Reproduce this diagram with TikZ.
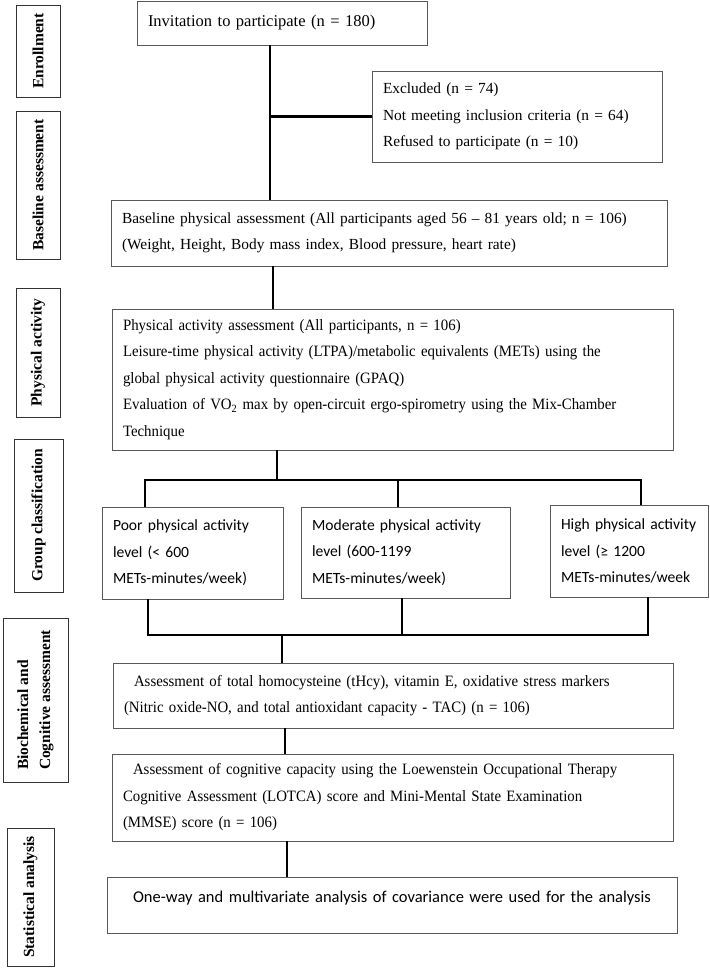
\documentclass[tikz,border=0pt]{standalone}
\usepackage{fontspec}
\setmainfont{Liberation Serif}
\newfontfamily\narrowserif[FakeStretch=0.94]{Liberation Serif}
\newfontfamily\calibri{Carlito}
\usepackage{tikz}

\tikzset{
  box/.style={draw=black!65, line width=0.9pt, inner xsep=11pt, inner ysep=3pt,
    align=left, font=\fontsize{15.4}{26.5}\selectfont},
  narrowbox/.style={box, font=\narrowserif\fontsize{15.8}{26.5}\selectfont},
  groupbox/.style={box, font=\calibri\fontsize{15.6}{26.5}\selectfont},
  sidebox/.style={draw=black!80, line width=0.9pt, rotate=90, inner sep=2pt,
    align=left, font=\bfseries\fontsize{15.5}{22}\selectfont},
  link/.style={line width=2.6pt, black},
}

\begin{document}
\begin{tikzpicture}[x=1pt, y=-1pt]
\useasboundingbox (0,0) rectangle (709,971);
% stage labels on the left
\node[sidebox, minimum width=92, minimum height=44] (enrol) at (38,51) {Enrollment};
\node[sidebox, minimum width=148, minimum height=44] (basel) at (38,185) {Baseline assessment};
\node[sidebox, minimum width=129, minimum height=44] (physl) at (38,352.5) {Physical activity};
\node[sidebox, minimum width=153, minimum height=49] (groupl) at (38.5,515.5) {Group classification};
\node[sidebox, minimum width=164, minimum height=65] (biol) at (35.5,700) {Biochemical and\\Cognitive assessment};
\node[sidebox, minimum width=138, minimum height=47] (statl) at (30.5,897) {Statistical analysis};
% flow boxes
\node[box, minimum width=290, minimum height=44, text width=268, font=\fontsize{16.5}{26.5}\selectfont] (inv) at (282,23)
  {Invitation to participate (n = 180)};
\node[box, minimum width=290, minimum height=91, text width=268] (excl) at (517,116.5)
  {Excluded (n = 74)\\Not meeting inclusion criteria (n = 64)\\Refused to participate (n = 10)};
\node[box, minimum width=556, minimum height=66, text width=534] (base) at (389,233)
  {Baseline physical assessment (All participants aged 56 – 81 years old; n = 106)\\(Weight, Height, Body mass index, Blood pressure, heart rate)};
\node[narrowbox, minimum width=561, minimum height=141, text width=539] (pa) at (392.5,379.5)
  {Physical activity assessment (All participants, n = 106)\\Leisure-time physical activity (LTPA)/metabolic equivalents (METs) using the\\global physical activity questionnaire (GPAQ)\\Evaluation of VO\textsubscript{2} max by open-circuit ergo-spirometry using the Mix-Chamber\\Technique};
\node[groupbox, minimum width=181, minimum height=92, text width=159] (poor) at (192.5,553)
  {Poor physical activity\\level (< 600\\METs-minutes/week)};
\node[groupbox, minimum width=209, minimum height=91, text width=187] (mod) at (405.5,552.5)
  {Moderate physical activity\\level (600-1199\\METs-minutes/week)};
\node[groupbox, minimum width=158, minimum height=92, text width=144, inner xsep=7pt] (high) at (629,551)
  {\hspace*{4pt}High physical activity\\\hspace*{4pt}level (≥ 1200\\\hspace*{4pt}METs-minutes/week};
\node[narrowbox, minimum width=560, minimum height=65, text width=538] (bio) at (393,695.5)
  {\hspace*{10pt}Assessment of total homocysteine (tHcy), vitamin E, oxidative stress markers\\(Nitric oxide-NO, and total antioxidant capacity - TAC) (n = 106)};
\node[narrowbox, minimum width=561, minimum height=87, text width=539] (cog) at (392.5,797.5)
  {\hspace*{10pt}Assessment of cognitive capacity using the Loewenstein Occupational Therapy\\Cognitive Assessment (LOTCA) score and Mini-Mental State Examination\\(MMSE) score (n = 106)};
\node[groupbox, minimum width=570, minimum height=56, text width=548, align=center, font=\calibri\fontsize{16.5}{26.5}\selectfont] (stats) at (392,905)
  {One-way and multivariate analysis of covariance were used for the analysis\\[-17.5pt]\strut};
% connector joints
\coordinate (t1) at (270,116);
\coordinate (t2) at (273,0);
\coordinate (s0) at (277,480);
\coordinate (s1) at (145,480);
\coordinate (s2) at (398,480);
\coordinate (s3) at (641,480);
\coordinate (m0) at (282,635);
\coordinate (m1) at (148,635);
\coordinate (m2) at (402,635);
\coordinate (m3) at (648,635);
\coordinate (t3) at (285,0);
\coordinate (t4) at (287,0);
% connectors
\draw[link] (inv.south -| t1) -- (base.north -| t1);
\draw[link] (excl.west) -- (excl.west -| t1);
\draw[link] (base.south -| t2) -- (pa.north -| t2);
\draw[link] (pa.south -| s0) -- (s0);
\draw[link] (poor.north -| s1) -- (s1) -- (s3) -- (high.north -| s3);
\draw[link] (mod.north -| s2) -- (s2);
\draw[link] (poor.south -| m1) -- (m1) -- (m3) -- (high.south -| m3);
\draw[link] (mod.south -| m2) -- (m2);
\draw[link] (m0) -- (bio.north -| m0);
\draw[link] (bio.south -| t3) -- (cog.north -| t3);
\draw[link] (cog.south -| t4) -- (stats.north -| t4);
\end{tikzpicture}
\end{document}
